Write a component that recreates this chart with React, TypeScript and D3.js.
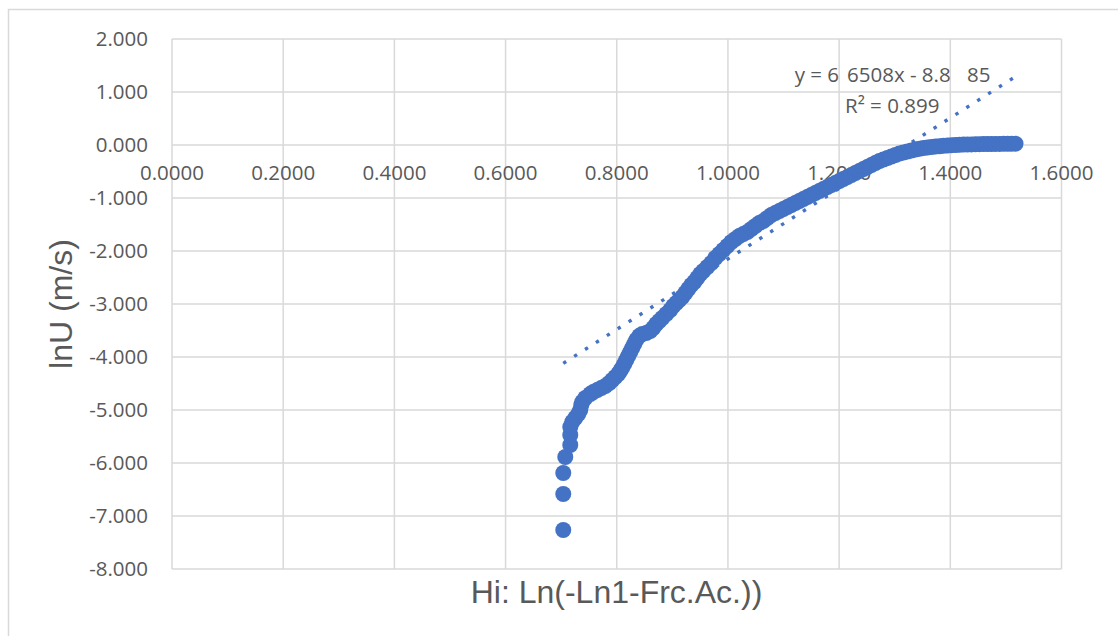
import React from "react";
import * as d3 from "d3";

const hi = [0.7038,0.7038,0.7038,0.7074,0.7164,0.7164,0.7164,0.7200,0.7254,0.7308,0.7344,0.7362,0.7380,0.7434,0.7524,0.7578,0.7650,0.7722,0.7794,0.7866,0.7920,0.7974,0.8027,0.8063,0.8099,0.8135,0.8171,0.8207,0.8243,0.8279,0.8315,0.8351,0.8405,0.8459,0.8531,0.8603,0.8657,0.8711,0.8765,0.8819,0.8891,0.8963,0.9017,0.9071,0.9125,0.9179,0.9233,0.9287,0.9341,0.9395,0.9449,0.9503,0.9557,0.9629,0.9701,0.9773,0.9845,0.9917,0.9989,1.0061,1.0133,1.0205,1.0277,1.0349,1.0421,1.0493,1.0565,1.0637,1.0709,1.0781,1.0853,1.0925,1.0997,1.1069,1.1141,1.1213,1.1285,1.1357,1.1429,1.1501,1.1573,1.1645,1.1717,1.1789,1.1861,1.1933,1.2005,1.2077,1.2149,1.2221,1.2293,1.2365,1.2437,1.2509,1.2581,1.2653,1.2725,1.2797,1.2869,1.2941,1.3013,1.3085,1.3157,1.3229,1.3301,1.3373,1.3445,1.3517,1.3589,1.3661,1.3733,1.3805,1.3877,1.3949,1.4021,1.4093,1.4165,1.4237,1.4309,1.4381,1.4453,1.4525,1.4597,1.4669,1.4741,1.4813,1.4885,1.4957,1.5029,1.5101,1.5173];

const lnU = [-7.264,-6.585,-6.189,-5.887,-5.660,-5.472,-5.321,-5.226,-5.151,-5.075,-5.000,-4.906,-4.849,-4.774,-4.698,-4.660,-4.623,-4.585,-4.547,-4.491,-4.434,-4.377,-4.321,-4.264,-4.200,-4.132,-4.057,-3.981,-3.906,-3.830,-3.755,-3.679,-3.604,-3.566,-3.547,-3.509,-3.453,-3.377,-3.321,-3.264,-3.189,-3.113,-3.038,-2.981,-2.925,-2.868,-2.792,-2.717,-2.642,-2.585,-2.509,-2.434,-2.377,-2.302,-2.226,-2.132,-2.057,-1.981,-1.906,-1.830,-1.774,-1.717,-1.679,-1.642,-1.585,-1.528,-1.472,-1.434,-1.377,-1.321,-1.283,-1.245,-1.208,-1.170,-1.132,-1.094,-1.057,-1.019,-0.981,-0.943,-0.906,-0.868,-0.830,-0.792,-0.755,-0.717,-0.679,-0.642,-0.604,-0.566,-0.528,-0.491,-0.453,-0.415,-0.377,-0.340,-0.302,-0.274,-0.245,-0.217,-0.189,-0.160,-0.142,-0.123,-0.104,-0.085,-0.072,-0.057,-0.047,-0.038,-0.028,-0.023,-0.015,-0.009,-0.004,0.000,0.004,0.008,0.009,0.011,0.013,0.015,0.017,0.019,0.019,0.021,0.021,0.023,0.023,0.023,0.025];

const xTicks = [0, 0.2, 0.4, 0.6, 0.8, 1.0, 1.2, 1.4, 1.6];
const yTicks = [2, 1, 0, -1, -2, -3, -4, -5, -6, -7, -8];

const slope = 6.6508;
const intercept = -8.8;
const eqParts = ["y = 6", "6508x - 8.8", "85"];
const r2Label = "R² = 0.899";
const xTitle = "Hi: Ln(-Ln1-Frc.Ac.))";
const yTitle = "lnU (m/s)";

const locale = d3.formatLocale({ decimal: ".", thousands: ",", grouping: [3], currency: ["", ""], minus: "-" });
const fx = locale.format(".4f");
const fy = locale.format(".3f");

export default function App() {
  const W = 1118, H = 636;
  const x = d3.scaleLinear().domain([0, 1.6]).range([172, 1061.5]);
  const y = d3.scaleLinear().domain([2, -8]).range([39, 569]);
  const grid = "#d9d9d9";
  const textCol = "#595959";
  const blue = "#4472C4";
  const tickFont = "'Open Sans', sans-serif";
  const xMin = d3.min(hi) as number;
  const xMax = d3.max(hi) as number;
  const trend = d3.line<number>().x((d) => x(d)).y((d) => y(slope * d + intercept));
  const pts = hi.map((h, i) => [h, lnU[i]]);
  return (
    <svg width={W} height={H} style={{ position: "absolute", left: 0, top: 0, background: "#fff" }}>
      <rect x={0} y={0} width={W} height={H} fill="#fff" />
      <rect x={8.5} y={9.5} width={1300} height={800} fill="none" stroke={grid} strokeWidth={1.5} />
      {yTicks.map((t) => (
        <line key={"gy" + t} x1={x(0)} x2={x(1.6)} y1={y(t)} y2={y(t)} stroke={grid} strokeWidth={1.5} />
      ))}
      {xTicks.map((t) => (
        <line key={"gx" + t} x1={x(t)} x2={x(t)} y1={y(2)} y2={y(-8)} stroke={grid} strokeWidth={1.5} />
      ))}
      {yTicks.map((t) => (
        <text key={"ty" + t} x={148} y={y(t)} dy="0.35em" textAnchor="end" fontFamily={tickFont} fontSize={20.5} fill={textCol}>
          {fy(t)}
        </text>
      ))}
      {xTicks.map((t) => (
        <text key={"tx" + t} x={x(t)} y={180} textAnchor="middle" fontFamily={tickFont} fontSize={20.5} fill={textCol}>
          {fx(t)}
        </text>
      ))}
      <g fill={blue}>
        {pts.map((p, i) => (
          <circle key={i} cx={x(p[0])} cy={y(p[1])} r={8} />
        ))}
      </g>
      <path d={trend([xMin, xMax]) as string} fill="none" stroke={blue} strokeWidth={3.4} strokeDasharray="3.4 9.5" />
      <text x={839} y={82} textAnchor="end" fontFamily={tickFont} fontSize={20.5} fill={textCol}>{eqParts[0]}</text>
      <text x={847} y={82} fontFamily={tickFont} fontSize={20.5} fill={textCol}>{eqParts[1]}</text>
      <text x={967} y={82} fontFamily={tickFont} fontSize={20.5} fill={textCol}>{eqParts[2]}</text>
      <text x={845} y={113} fontFamily={tickFont} fontSize={20.5} fill={textCol}>{r2Label}</text>
      <text x={616.5} y={603} textAnchor="middle" fontFamily="'Liberation Sans', Arial, sans-serif" fontSize={32} fill={textCol}>
        {xTitle}
      </text>
      <text transform={`translate(72,${(y(2) + y(-8)) / 2}) rotate(-90)`} textAnchor="middle" fontFamily="'Liberation Sans', Arial, sans-serif" fontSize={32} fill={textCol}>
        {yTitle}
      </text>
    </svg>
  );
}
